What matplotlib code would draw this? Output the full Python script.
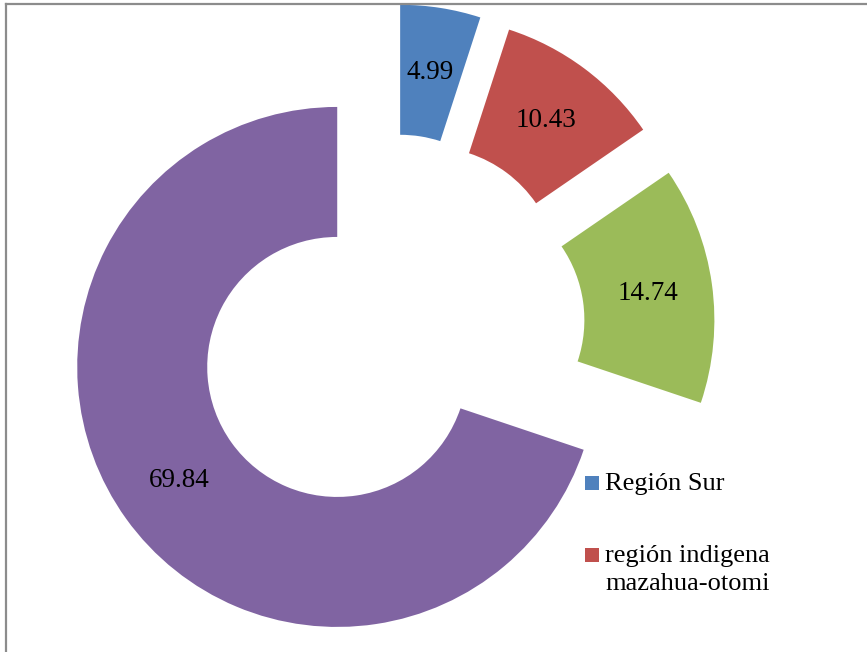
import matplotlib
matplotlib.use("Agg")
import matplotlib.pyplot as plt
from matplotlib.patches import Rectangle
from matplotlib.lines import Line2D
import textwrap

# Data
categories = ["Región Sur", "región indigena mazahua-otomi", "Serie 3", "Serie 4"]
values = [4.99, 10.43, 14.74, 69.84]
colors = ["#4F81BD", "#C0504D", "#9BBB59", "#8064A2"]
legend_count = 2  # only first two entries visible in the reference

W, H = 867, 652
DPI = 100
fig = plt.figure(figsize=(W / DPI, H / DPI), dpi=DPI)
fig.patch.set_facecolor("white")

ax = fig.add_axes([0, 0, 1, 1])
wedges, texts, autotexts = ax.pie(
    values,
    colors=colors,
    startangle=90,
    counterclock=False,
    explode=[0.25] * len(values),
    autopct=lambda p: f"{p:.2f}",
    pctdistance=0.75,
    wedgeprops=dict(width=0.5, linewidth=0),
    textprops=dict(family="Liberation Serif", fontsize=19.5, color="black"),
)

# pixel-based scale: radius = 260 px, centre at (390, 329) from top-left
R = 260.0
cx, cy = 390.0, 329.0
ax.set_aspect("auto")
ax.set_xlim(-cx / R, (W - cx) / R)
ax.set_ylim(-(H - cy) / R, cy / R)
ax.axis("off")

# Border (top and left visible)
def px(x, y):
    return x / W, 1 - y / H

border_col = "#8C8C8C"
fig.add_artist(Line2D([px(5.5, 3.5)[0], 1.0], [px(5.5, 3.5)[1]] * 2,
                      color=border_col, lw=1.6, transform=fig.transFigure))
fig.add_artist(Line2D([px(5.5, 3.5)[0]] * 2, [px(5.5, 3.5)[1], 0.0],
                      color=border_col, lw=1.6, transform=fig.transFigure))

# Legend (manual, Excel-like: marker aligned with first line)
leg_x = 585
leg_tops = [476, 548]
sq = 14
for i in range(legend_count):
    x0, y0 = px(leg_x, leg_tops[i] + sq)
    fig.add_artist(Rectangle((x0, y0), sq / W, sq / H, facecolor=colors[i],
                             edgecolor="none", transform=fig.transFigure))
    label = "\n".join(textwrap.wrap(categories[i], 16))
    tx, ty = px(leg_x + 20, leg_tops[i] - 3)
    fig.text(tx, ty, label, ha="left", va="top", family="Liberation Serif",
             fontsize=19, color="black", linespacing=1.35)

fig.savefig("out.png", dpi=DPI)
